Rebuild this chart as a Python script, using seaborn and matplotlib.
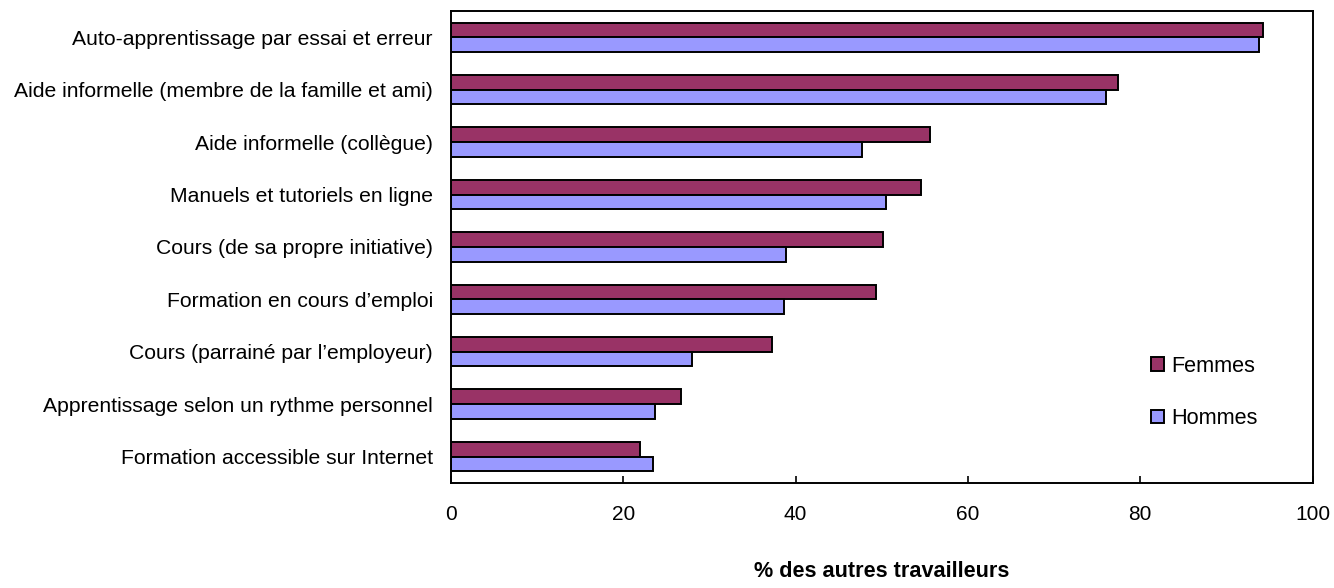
import pandas as pd
import numpy as np
import matplotlib.pyplot as plt
import seaborn as sns

categories = [
    "Auto-apprentissage par essai et erreur",
    "Aide informelle (membre de la famille et ami)",
    "Aide informelle (collègue)",
    "Manuels et tutoriels en ligne",
    "Cours (de sa propre initiative)",
    "Formation en cours d’emploi",
    "Cours (parrainé par l’employeur)",
    "Apprentissage selon un rythme personnel",
    "Formation accessible sur Internet",
]
femmes = [94.2, 77.4, 55.6, 54.5, 50.1, 49.3, 37.3, 26.7, 22.0]
hommes = [93.8, 76.0, 47.7, 50.5, 38.9, 38.7, 28.0, 23.7, 23.4]
x_ticks = [0, 20, 40, 60, 80, 100]

sns.set_style("white")
plt.rcParams['font.family'] = ['Liberation Sans', 'DejaVu Sans']
plt.rcParams['text.color'] = 'black'
plt.rcParams['axes.labelcolor'] = 'black'
plt.rcParams['xtick.color'] = 'black'
plt.rcParams['ytick.color'] = 'black'

data = pd.DataFrame({
    'Catégorie': categories * 2,
    'Valeur': femmes + hommes,
    'Sexe': ['Femmes'] * len(femmes) + ['Hommes'] * len(hommes),
})

fig = plt.figure(figsize=(13.34, 5.88), dpi=100)
ax = fig.add_axes([0.338, 0.179, 0.646, 0.802])

sns.barplot(data=data, x='Valeur', y='Catégorie', hue='Sexe', orient='h',
            palette={'Femmes': '#993366', 'Hommes': '#9999FF'},
            width=0.56, edgecolor='black', linewidth=1.4, saturation=1,
            ax=ax)

ax.set_xlim(0, 100)
ax.set_ylim(len(categories) - 0.5, -0.5)
ax.set_xticks(x_ticks)
ax.tick_params(axis='x', direction='in', length=5, width=1.2, pad=16,
               labelsize=15, bottom=True)
ax.tick_params(axis='y', length=0, pad=13, labelsize=15.2)
ax.set_ylabel('')
ax.set_xlabel('% des autres travailleurs', fontsize=15.6, fontweight='bold',
              labelpad=27)
for s in ax.spines.values():
    s.set_visible(True)
    s.set_color('black')
    s.set_linewidth(1.4)

ax.legend(loc='upper left', bbox_to_anchor=(0.848, 0.428),
          bbox_transform=fig.transFigure, frameon=False, fontsize=15.6,
          handlelength=0.6, handleheight=0.6, handletextpad=0.35,
          labelspacing=1.45)

fig.savefig('out.png', dpi=100)
